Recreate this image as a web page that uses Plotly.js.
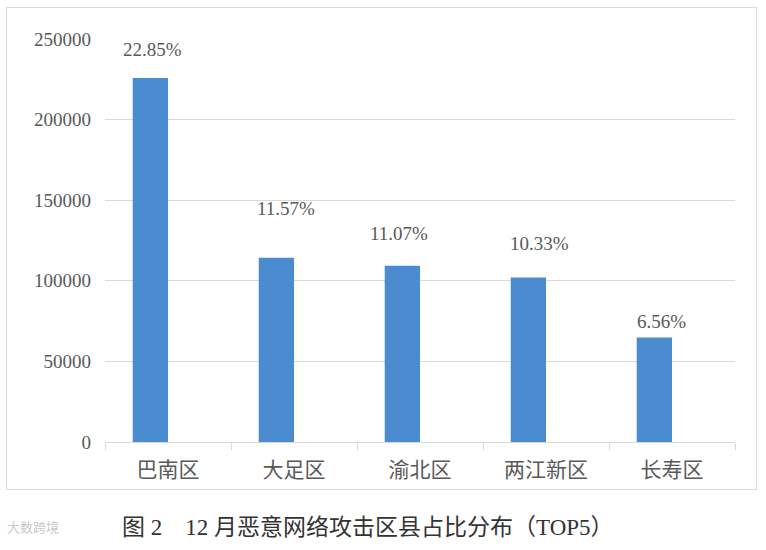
<!DOCTYPE html>
<html>
<head>
<meta charset="utf-8">
<script src="https://cdn.plot.ly/plotly-3.0.1.min.js"></script>
<style>
  html, body { margin: 0; padding: 0; background: #ffffff; }
  #wrap { position: relative; width: 766px; height: 550px; }
  #chart { width: 766px; height: 550px; }
  #frame { position: absolute; left: 6px; top: 7px; width: 751px; height: 483px;
           border: 1px solid #d9d9d9; pointer-events: none; box-sizing: border-box; }
</style>
</head>
<body>
<div id="wrap">
  <div id="chart"></div>
  <div id="frame"></div>
</div>
<script>
const categories = ['巴南区', '大足区', '渝北区', '两江新区', '长寿区'];
const attackCounts = [225800, 114300, 109400, 102100, 64800];
const shareLabels = ['22.85%', '11.57%', '11.07%', '10.33%', '6.56%'];
const yTickValues = [0, 50000, 100000, 150000, 200000, 250000];
const yTickLabels = ['0', '50000', '100000', '150000', '200000', '250000'];
const captionText = '图 2\u300012 月恶意网络攻击区县占比分布（TOP5）';

const labelXShift = [-16, -8, -21, -7, -11];
const labelYShift = [29, 49, 32, 34, 16];

const numFont = 'Liberation Serif, "Noto Sans CJK SC", serif';
const textGray = '#595959';

const trace = {
  type: 'bar',
  x: categories,
  y: attackCounts,
  width: 0.28,
  offset: -0.28,
  marker: { color: '#4b8bcf', line: { width: 0 } },
  hoverinfo: 'x+y'
};

const annotations = categories.map((c, i) => ({
  x: c, y: attackCounts[i], xref: 'x', yref: 'y',
  text: shareLabels[i], showarrow: false,
  xanchor: 'center', yanchor: 'middle',
  xshift: labelXShift[i], yshift: labelYShift[i],
  font: { family: numFont, size: 19, color: textGray }
}));

annotations.push({
  xref: 'paper', yref: 'paper', x: 0.418, y: -0.212,
  text: captionText, showarrow: false, xanchor: 'center', yanchor: 'middle',
  font: { family: numFont, size: 23, color: '#333333' }
});
annotations.push({
  xref: 'paper', yref: 'paper', x: -0.158, y: -0.209,
  text: '大数跨境', showarrow: false, xanchor: 'left', yanchor: 'middle',
  font: { family: '"Noto Sans CJK SC", sans-serif', size: 13, color: '#c8c8c8' }
});

const layout = {
  width: 766, height: 550,
  margin: { l: 105, r: 31, t: 39, b: 107.5, pad: 0 },
  paper_bgcolor: '#ffffff', plot_bgcolor: '#ffffff',
  showlegend: false,
  xaxis: {
    type: 'category',
    tickson: 'boundaries',
    ticks: 'outside', ticklen: 7, tickcolor: '#d9d9d9', tickwidth: 1,
    showline: true, linecolor: '#d9d9d9', linewidth: 1,
    showgrid: false, zeroline: false,
    tickfont: { family: '"Noto Sans CJK SC", sans-serif', size: 21, color: textGray },
    ticklabelstandoff: 9,
    fixedrange: true
  },
  yaxis: {
    range: [0, 250000],
    tickmode: 'array', tickvals: yTickValues, ticktext: yTickLabels,
    showgrid: true, gridcolor: '#d9d9d9', gridwidth: 1,
    zeroline: false, showline: false, ticks: '',
    tickfont: { family: numFont, size: 19, color: textGray },
    ticklabelstandoff: 13,
    fixedrange: true
  },
  annotations: annotations
};

Plotly.newPlot('chart', [trace], layout, { displayModeBar: false, staticPlot: true });
</script>
</body>
</html>
